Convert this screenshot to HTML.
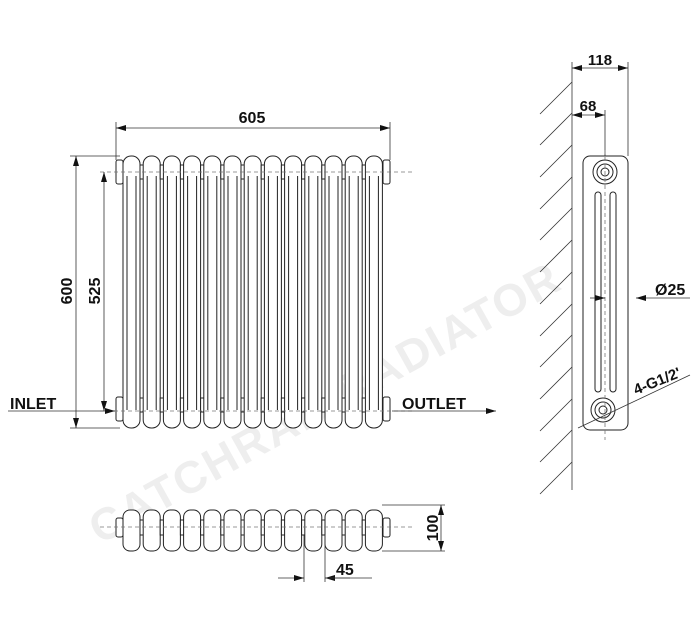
<!DOCTYPE html>
<html><head><meta charset="utf-8"><style>
html,body{margin:0;padding:0;background:#fff;}
svg{display:block;}
text{font-family:"Liberation Sans",Arial,sans-serif;font-weight:bold;fill:#111;}
</style></head><body>
<svg width="700" height="632" viewBox="0 0 700 632" xmlns="http://www.w3.org/2000/svg">
<defs>
<marker id="a" viewBox="0 0 10 6" refX="10" refY="3" markerWidth="10" markerHeight="6" orient="auto-start-reverse" markerUnits="userSpaceOnUse"><path d="M0,0L10,3L0,6z" fill="#111"/></marker>
<g id="sec" fill="#fff" stroke="#222" stroke-width="1">
<rect x="0" y="156" width="17" height="272" rx="8"/>
<line x1="4" y1="176" x2="4" y2="410"/>
<line x1="13" y1="176" x2="13" y2="410"/>
<rect x="17" y="165" width="4" height="14"/>
<rect x="17" y="398" width="4" height="14"/>
</g>
<g id="tsec" fill="#fff" stroke="#222" stroke-width="1">
<rect x="0" y="510" width="17" height="41" rx="7"/>
<rect x="17" y="520" width="4" height="15"/>
</g>
</defs>
<!-- watermark -->
<text x="0" y="0" transform="translate(100,545) rotate(-29)" font-size="45" style="fill:#eee" letter-spacing="2">CATCHRAD RADIATOR</text>

<!-- front view -->
<g stroke="#222" stroke-width="1" fill="#fff">
<rect x="116" y="160" width="7" height="24" rx="2"/>
<rect x="116" y="397" width="7" height="24" rx="2"/>
<rect x="383" y="160" width="7" height="24" rx="2"/>
<rect x="383" y="397" width="7" height="24" rx="2"/>
</g>
<use href="#sec" x="123"/><use href="#sec" x="143.2"/><use href="#sec" x="163.4"/><use href="#sec" x="183.6"/><use href="#sec" x="203.8"/><use href="#sec" x="224"/><use href="#sec" x="244.2"/><use href="#sec" x="264.4"/><use href="#sec" x="284.6"/><use href="#sec" x="304.8"/><use href="#sec" x="325"/><use href="#sec" x="345.2"/>
<g fill="#fff" stroke="#222"><rect x="365.4" y="156" width="17" height="272" rx="8"/><line x1="369.4" y1="176" x2="369.4" y2="410"/><line x1="378.4" y1="176" x2="378.4" y2="410"/></g>
<g stroke="#777" stroke-width="0.8" stroke-dasharray="4,3">
<line x1="100" y1="172" x2="412" y2="172"/>
<line x1="100" y1="411" x2="412" y2="411"/>
</g>
<g stroke="#333" stroke-width="0.8" fill="none">
<line x1="116" y1="122" x2="116" y2="160"/><line x1="390" y1="122" x2="390" y2="160"/>
<line x1="116" y1="128" x2="390" y2="128" marker-start="url(#a)" marker-end="url(#a)"/>
<line x1="70" y1="156" x2="120" y2="156"/><line x1="70" y1="428" x2="120" y2="428"/>
<line x1="76" y1="156" x2="76" y2="428" marker-start="url(#a)" marker-end="url(#a)"/>
<line x1="104" y1="172" x2="104" y2="411" marker-start="url(#a)" marker-end="url(#a)"/>
<line x1="8" y1="411" x2="115" y2="411" marker-end="url(#a)"/>
<line x1="392" y1="411" x2="496" y2="411" marker-end="url(#a)"/>
</g>
<text x="252" y="123" font-size="16" text-anchor="middle">605</text>
<text transform="translate(72,291) rotate(-90)" font-size="16" text-anchor="middle">600</text>
<text transform="translate(100,291) rotate(-90)" font-size="16" text-anchor="middle">525</text>
<text x="10" y="409" font-size="16">INLET</text>
<text x="402" y="409" font-size="16">OUTLET</text>

<!-- top view -->
<g stroke="#222" fill="#fff"><rect x="116" y="518" width="7" height="19" rx="2"/><rect x="383" y="518" width="7" height="19" rx="2"/></g>
<use href="#tsec" x="123"/><use href="#tsec" x="143.2"/><use href="#tsec" x="163.4"/><use href="#tsec" x="183.6"/><use href="#tsec" x="203.8"/><use href="#tsec" x="224"/><use href="#tsec" x="244.2"/><use href="#tsec" x="264.4"/><use href="#tsec" x="284.6"/><use href="#tsec" x="304.8"/><use href="#tsec" x="325"/><use href="#tsec" x="345.2"/>
<rect x="365.4" y="510" width="17" height="41" rx="7" fill="#fff" stroke="#222"/>
<line x1="100" y1="527" x2="412" y2="527" stroke="#777" stroke-width="0.8" stroke-dasharray="4,3"/>
<g stroke="#333" stroke-width="0.8" fill="none">
<line x1="382" y1="505" x2="445" y2="505"/><line x1="382" y1="551" x2="445" y2="551"/>
<line x1="441" y1="505" x2="441" y2="551" marker-start="url(#a)" marker-end="url(#a)"/>
<line x1="304" y1="535" x2="304" y2="582"/><line x1="325" y1="535" x2="325" y2="582"/>
<line x1="278" y1="578" x2="304" y2="578" marker-end="url(#a)"/>
<line x1="350" y1="578" x2="325" y2="578" marker-end="url(#a)"/>
<line x1="325" y1="578" x2="372" y2="578"/>
</g>
<text transform="translate(438,528) rotate(-90)" font-size="16" text-anchor="middle">100</text>
<text x="336" y="575" font-size="16">45</text>

<!-- side view -->
<g stroke="#333" stroke-width="0.8" fill="none">
<line x1="572" y1="62" x2="572" y2="490"/>
<path d="M572,82l-32,32M572,113l-32,32M572,145l-32,32M572,177l-32,32M572,208l-32,32M572,240l-32,32M572,272l-32,32M572,304l-32,32M572,335l-32,32M572,367l-32,32M572,399l-32,32M572,430l-32,32M572,462l-32,32"/>
<line x1="628" y1="62" x2="628" y2="156"/>
<line x1="572" y1="68" x2="628" y2="68" marker-start="url(#a)" marker-end="url(#a)"/>
<line x1="605" y1="110" x2="605" y2="156"/>
<line x1="572" y1="115" x2="605" y2="115" marker-start="url(#a)" marker-end="url(#a)"/>
</g>
<text x="600" y="65" font-size="15" text-anchor="middle">118</text>
<text x="588" y="111" font-size="15" text-anchor="middle">68</text>
<g stroke="#222" stroke-width="1" fill="#fff">
<rect x="583" y="156" width="45" height="274" rx="7"/>
<rect x="595" y="192" width="6" height="200" rx="3"/>
<rect x="610" y="192" width="6" height="200" rx="3"/>
<circle cx="605" cy="172" r="12"/><circle cx="605" cy="172" r="8"/><circle cx="605" cy="172" r="4"/>
<circle cx="603" cy="410" r="12"/><circle cx="603" cy="410" r="8"/><circle cx="603" cy="410" r="4"/>
</g>
<line x1="605" y1="150" x2="605" y2="440" stroke="#777" stroke-width="0.8" stroke-dasharray="4,3"/>
<g stroke="#333" stroke-width="0.8" fill="none">
<line x1="590" y1="298" x2="605" y2="298" marker-end="url(#a)"/>
<line x1="690" y1="298" x2="636" y2="298" marker-end="url(#a)"/>
<line x1="578" y1="428" x2="690" y2="375"/>
</g>
<text x="655" y="295" font-size="16">Ø25</text>
<text transform="translate(636,395) rotate(-22)" font-size="15">4-G1/2'</text>
</svg>
</body></html>
